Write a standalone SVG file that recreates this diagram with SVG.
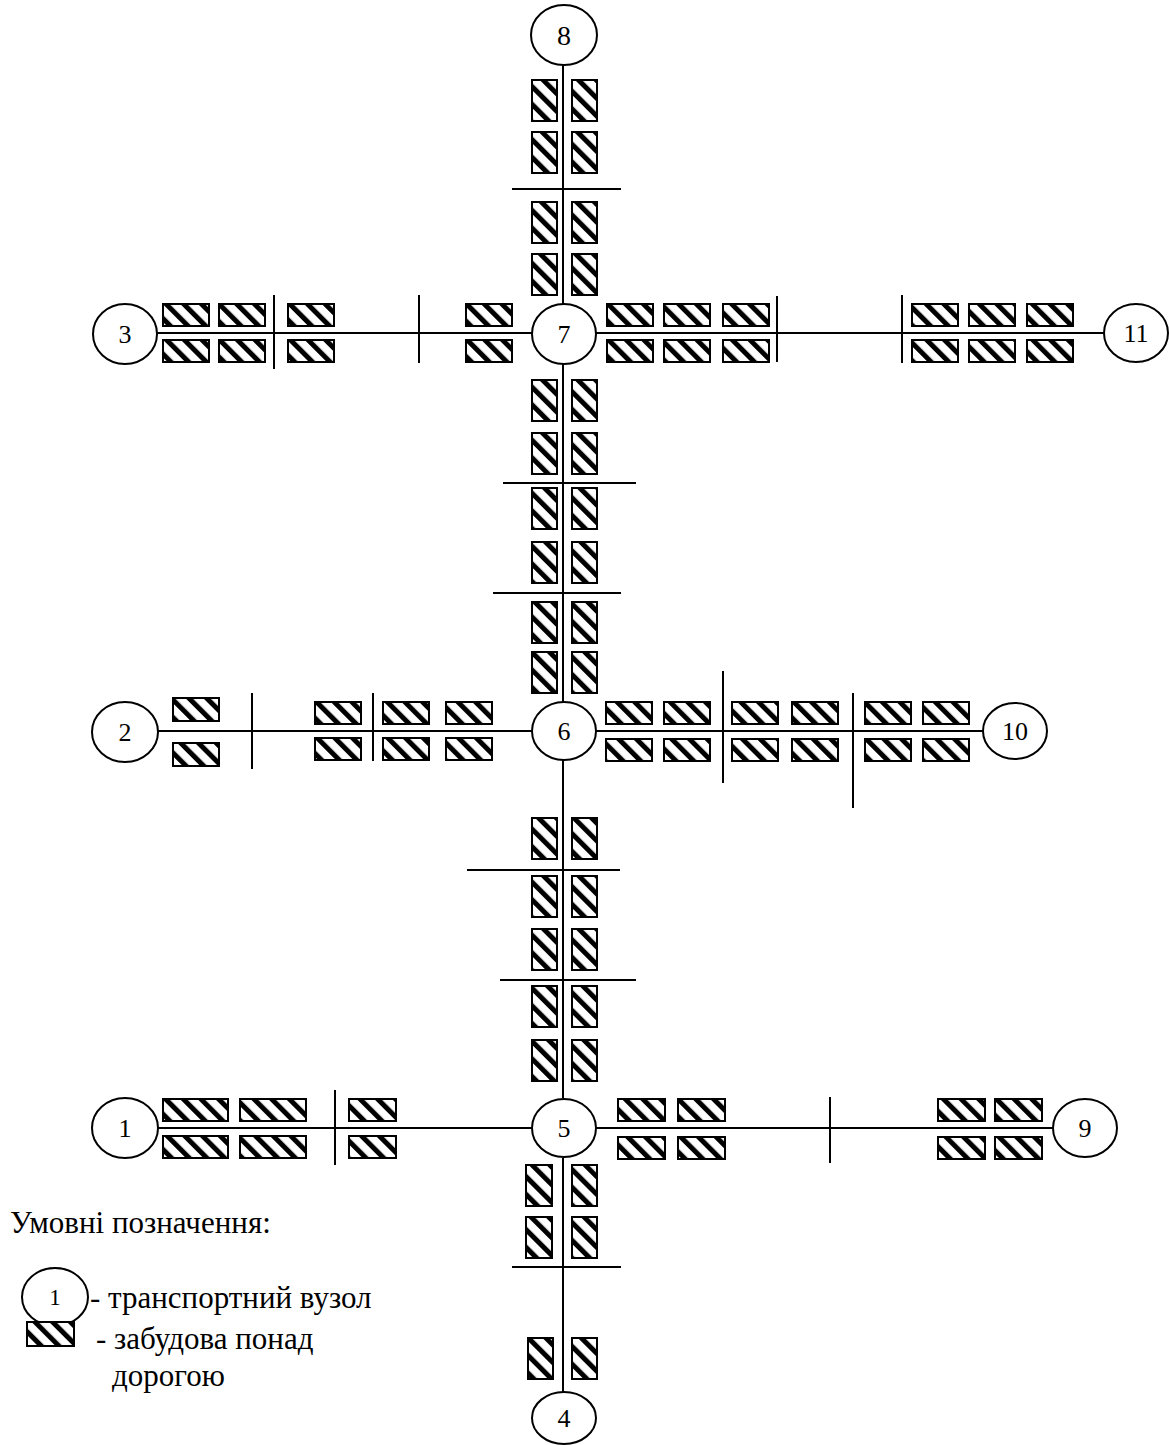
<svg xmlns="http://www.w3.org/2000/svg" width="1169" height="1445" viewBox="0 0 1169 1445">
<defs>
<pattern id="hatch" patternUnits="userSpaceOnUse" width="12.5" height="12.5" patternTransform="rotate(-45)">
<rect width="12.5" height="12.5" fill="#fff"/>
<rect x="0" y="0" width="5" height="12.5" fill="#000"/>
</pattern>
<style>
.road{stroke:#000;stroke-width:2;fill:none}
.cut{stroke:#000;stroke-width:2;fill:none}
.node ellipse{fill:#fff;stroke:#000;stroke-width:2}
.node text{font-family:"Liberation Serif","Times New Roman",serif;font-size:24px;text-anchor:middle;fill:#000}
.b{fill:url(#hatch);stroke:#000;stroke-width:2}
.leg{font-family:"Liberation Serif","Times New Roman",serif;font-size:31px;fill:#000}
</style>
</defs>
<rect width="1169" height="1445" fill="#fff"/>

<g id="connectors">
<path class="road" d="M563,65 V304 M563,364 V702 M563,760 V1098 M563,1158 V1392"/>
<path class="road" d="M157,333 H532 M596,333 H1104"/>
<path class="road" d="M158,731 H532 M596,731 H983"/>
<path class="road" d="M158,1128 H532 M596,1128 H1053"/>
</g>

<g id="boundaries">
<path class="cut" d="M512,189 H621 M503,483 H636 M493,593 H621 M467,870 H620 M500,980 H636 M512,1267 H621"/>
<path class="cut" d="M274,295 V369 M419,295 V363 M777,296 V362 M902,295 V363"/>
<path class="cut" d="M252,693 V769 M373,693 V761 M723,671 V783 M853,693 V808"/>
<path class="cut" d="M335,1090 V1165 M830,1097 V1163"/>
</g>

<g id="buildings">
<!-- 8-7 -->
<rect class="b" x="532" y="80" width="25" height="41"/><rect class="b" x="572" y="80" width="25" height="41"/>
<rect class="b" x="532" y="132" width="25" height="41"/><rect class="b" x="572" y="132" width="25" height="41"/>
<rect class="b" x="532" y="202" width="25" height="41"/><rect class="b" x="572" y="202" width="25" height="41"/>
<rect class="b" x="532" y="254" width="25" height="41"/><rect class="b" x="572" y="254" width="25" height="41"/>
<!-- 7-6 -->
<rect class="b" x="532" y="380" width="25" height="41"/><rect class="b" x="572" y="380" width="25" height="41"/>
<rect class="b" x="532" y="433" width="25" height="41"/><rect class="b" x="572" y="433" width="25" height="41"/>
<rect class="b" x="532" y="488" width="25" height="41"/><rect class="b" x="572" y="488" width="25" height="41"/>
<rect class="b" x="532" y="542" width="25" height="41"/><rect class="b" x="572" y="542" width="25" height="41"/>
<rect class="b" x="532" y="602" width="25" height="41"/><rect class="b" x="572" y="602" width="25" height="41"/>
<rect class="b" x="532" y="652" width="25" height="41"/><rect class="b" x="572" y="652" width="25" height="41"/>
<!-- 6-5 -->
<rect class="b" x="532" y="818" width="25" height="41"/><rect class="b" x="572" y="818" width="25" height="41"/>
<rect class="b" x="532" y="876" width="25" height="41"/><rect class="b" x="572" y="876" width="25" height="41"/>
<rect class="b" x="532" y="929" width="25" height="41"/><rect class="b" x="572" y="929" width="25" height="41"/>
<rect class="b" x="532" y="986" width="25" height="41"/><rect class="b" x="572" y="986" width="25" height="41"/>
<rect class="b" x="532" y="1040" width="25" height="41"/><rect class="b" x="572" y="1040" width="25" height="41"/>
<!-- 5-4 -->
<rect class="b" x="526" y="1165" width="26" height="41"/><rect class="b" x="572" y="1165" width="25" height="41"/>
<rect class="b" x="526" y="1217" width="26" height="41"/><rect class="b" x="572" y="1217" width="25" height="41"/>
<rect class="b" x="528" y="1338" width="25" height="41"/><rect class="b" x="572" y="1338" width="25" height="41"/>
<!-- 3-7-11 -->
<rect class="b" x="163" y="304" width="46" height="22"/><rect class="b" x="163" y="340" width="46" height="22"/>
<rect class="b" x="219" y="304" width="46" height="22"/><rect class="b" x="219" y="340" width="46" height="22"/>
<rect class="b" x="288" y="304" width="46" height="22"/><rect class="b" x="288" y="340" width="46" height="22"/>
<rect class="b" x="466" y="304" width="46" height="22"/><rect class="b" x="466" y="340" width="46" height="22"/>
<rect class="b" x="607" y="304" width="46" height="22"/><rect class="b" x="607" y="340" width="46" height="22"/>
<rect class="b" x="664" y="304" width="46" height="22"/><rect class="b" x="664" y="340" width="46" height="22"/>
<rect class="b" x="723" y="304" width="46" height="22"/><rect class="b" x="723" y="340" width="46" height="22"/>
<rect class="b" x="912" y="304" width="46" height="22"/><rect class="b" x="912" y="340" width="46" height="22"/>
<rect class="b" x="969" y="304" width="46" height="22"/><rect class="b" x="969" y="340" width="46" height="22"/>
<rect class="b" x="1027" y="304" width="46" height="22"/><rect class="b" x="1027" y="340" width="46" height="22"/>
<!-- 2-6-10 -->
<rect class="b" x="173" y="698" width="46" height="23"/><rect class="b" x="173" y="743" width="46" height="23"/>
<rect class="b" x="315" y="702" width="46" height="22"/><rect class="b" x="315" y="738" width="46" height="22"/>
<rect class="b" x="383" y="702" width="46" height="22"/><rect class="b" x="383" y="738" width="46" height="22"/>
<rect class="b" x="446" y="702" width="46" height="22"/><rect class="b" x="446" y="738" width="46" height="22"/>
<rect class="b" x="606" y="702" width="46" height="22"/><rect class="b" x="606" y="739" width="46" height="22"/>
<rect class="b" x="664" y="702" width="46" height="22"/><rect class="b" x="664" y="739" width="46" height="22"/>
<rect class="b" x="732" y="702" width="46" height="22"/><rect class="b" x="732" y="739" width="46" height="22"/>
<rect class="b" x="792" y="702" width="46" height="22"/><rect class="b" x="792" y="739" width="46" height="22"/>
<rect class="b" x="865" y="702" width="46" height="22"/><rect class="b" x="865" y="739" width="46" height="22"/>
<rect class="b" x="923" y="702" width="46" height="22"/><rect class="b" x="923" y="739" width="46" height="22"/>
<!-- 1-5-9 -->
<rect class="b" x="163" y="1099" width="65" height="22"/><rect class="b" x="163" y="1136" width="65" height="22"/>
<rect class="b" x="240" y="1099" width="66" height="22"/><rect class="b" x="240" y="1136" width="66" height="22"/>
<rect class="b" x="349" y="1099" width="47" height="22"/><rect class="b" x="349" y="1136" width="47" height="22"/>
<rect class="b" x="618" y="1099" width="47" height="22"/><rect class="b" x="618" y="1137" width="47" height="22"/>
<rect class="b" x="678" y="1099" width="47" height="22"/><rect class="b" x="678" y="1137" width="47" height="22"/>
<rect class="b" x="938" y="1099" width="47" height="22"/><rect class="b" x="938" y="1137" width="47" height="22"/>
<rect class="b" x="995" y="1099" width="47" height="22"/><rect class="b" x="995" y="1137" width="47" height="22"/>
</g>

<g id="node-8" class="node"><ellipse cx="564" cy="35" rx="33" ry="30"/><text x="564" y="45" style="font-size:28px">8</text></g>
<g id="node-7" class="node"><ellipse cx="564" cy="334" rx="32" ry="30"/><text x="564" y="343" style="font-size:26px">7</text></g>
<g id="node-3" class="node"><ellipse cx="125" cy="334" rx="32" ry="30"/><text x="125" y="343" style="font-size:26px">3</text></g>
<g id="node-11" class="node"><ellipse cx="1136" cy="333" rx="32" ry="29"/><text x="1136" y="342" style="font-size:26px">11</text></g>
<g id="node-6" class="node"><ellipse cx="564" cy="731" rx="32" ry="29"/><text x="564" y="740" style="font-size:26px">6</text></g>
<g id="node-2" class="node"><ellipse cx="125" cy="732" rx="33" ry="30"/><text x="125" y="741" style="font-size:26px">2</text></g>
<g id="node-10" class="node"><ellipse cx="1015" cy="731" rx="32" ry="28"/><text x="1015" y="740" style="font-size:26px">10</text></g>
<g id="node-5" class="node"><ellipse cx="564" cy="1128" rx="32" ry="29"/><text x="564" y="1137" style="font-size:26px">5</text></g>
<g id="node-1" class="node"><ellipse cx="125" cy="1128" rx="33" ry="30"/><text x="125" y="1137" style="font-size:26px">1</text></g>
<g id="node-9" class="node"><ellipse cx="1085" cy="1128" rx="32" ry="29"/><text x="1085" y="1137" style="font-size:26px">9</text></g>
<g id="node-4" class="node"><ellipse cx="564" cy="1418" rx="32" ry="26"/><text x="564" y="1427" style="font-size:26px">4</text></g>

<g id="legend">
<text class="leg" x="10" y="1233">Умовні позначення:</text>
<g id="legend-node" class="node"><ellipse cx="55" cy="1297" rx="33" ry="29"/><text x="55" y="1305" style="font-size:23px">1</text></g>
<text class="leg" x="90" y="1308">- транспортний вузол</text>
<rect class="b" x="27" y="1322" width="47" height="24"/>
<text class="leg" x="96" y="1349">- забудова понад</text>
<text class="leg" x="112" y="1386">дорогою</text>
</g>
</svg>
